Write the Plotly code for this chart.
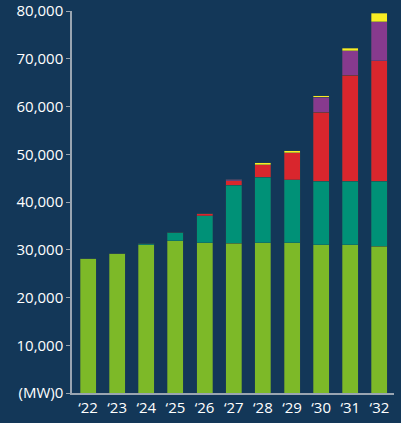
import plotly.graph_objects as go

years = ["\u201822", "\u201823", "\u201824", "\u201825", "\u201826", "\u201827", "\u201828", "\u201829", "\u201830", "\u201831", "\u201832"]
green = [28100, 29300, 31000, 31900, 31500, 31400, 31500, 31500, 31100, 31100, 30700]
teal = [0, 0, 400, 1800, 5600, 12100, 13700, 13200, 13200, 13200, 13600]
red = [0, 0, 0, 0, 400, 900, 2600, 5600, 14500, 22200, 25300]
purple = [0, 0, 0, 0, 0, 350, 0, 0, 3100, 5200, 8100]
yellow = [0, 0, 0, 0, 0, 0, 400, 450, 400, 500, 1800]

series = [
    (green, "#7db928"),
    (teal, "#009177"),
    (red, "#d9262d"),
    (purple, "#873a8e"),
    (yellow, "#f9ec23"),
]

bg = "#133758"
fig = go.Figure()
for vals, col in series:
    fig.add_trace(go.Bar(x=years, y=vals, marker=dict(color=col, line=dict(width=0.6, color="rgba(40,70,80,0.6)")),
                         showlegend=False))

fig.update_layout(
    barmode="stack",
    bargap=0.45,
    width=401, height=423,
    paper_bgcolor=bg, plot_bgcolor=bg,
    margin=dict(l=72, r=7, t=11, b=30, autoexpand=False),
    font=dict(family="Open Sans, sans-serif", color="#ffffff", size=15),
    xaxis=dict(showgrid=False, showline=True, linecolor="#9aa5b1", linewidth=1.5,
               ticks="", range=[-0.55, 10.5], tickfont=dict(size=15)),
    yaxis=dict(range=[0, 80000], showgrid=False, showline=True, linecolor="#9aa5b1", linewidth=1.5,
               ticks="outside", ticklen=4, tickcolor="#9aa5b1",
               tickvals=[0, 10000, 20000, 30000, 40000, 50000, 60000, 70000, 80000],
               ticktext=["(MW)0", "10,000", "20,000", "30,000", "40,000", "50,000", "60,000", "70,000", "80,000"],
               tickfont=dict(size=15), zeroline=False),
)
fig.write_html("out.html", config={"displayModeBar": False},
               post_script="document.body.style.margin='0';document.body.style.background='%s';" % bg)
